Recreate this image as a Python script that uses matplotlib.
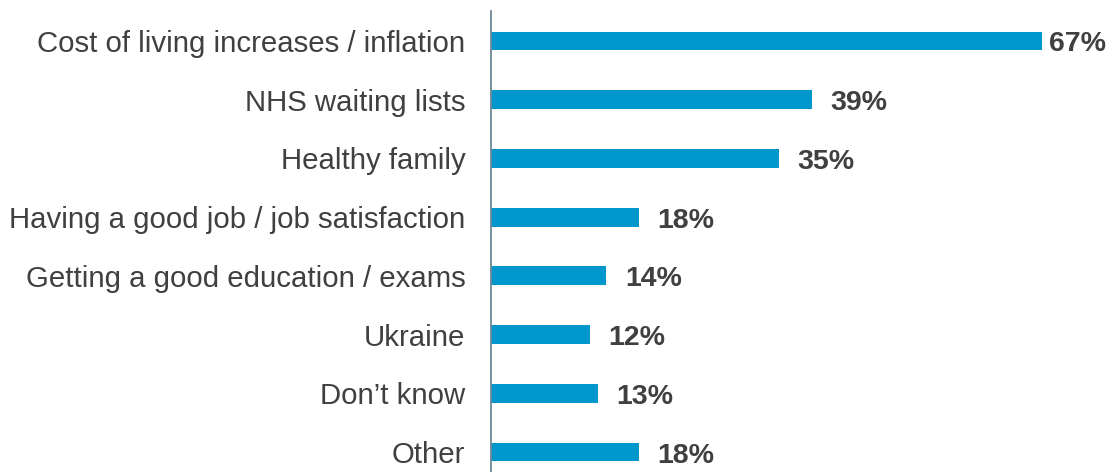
import matplotlib
matplotlib.use("Agg")
import matplotlib.pyplot as plt

categories = [
    "Cost of living increases / inflation",
    "NHS waiting lists",
    "Healthy family",
    "Having a good job / job satisfaction",
    "Getting a good education / exams",
    "Ukraine",
    "Don\u2019t know",
    "Other",
]
values = [67, 39, 35, 18, 14, 12, 13, 18]

plt.rcParams["font.family"] = ["Liberation Sans", "DejaVu Sans"]

fig = plt.figure(figsize=(11.06, 4.72), dpi=100)
ax = fig.add_axes([491 / 1106, 0, 615 / 1106, 461 / 472])

pos = list(range(len(categories)))
ax.barh(pos, values, height=0.32, color="#0098CC", zorder=2)

for i, v in enumerate(values):
    off = 5 if i == 0 else 13.5
    ax.annotate(f"{v}%", xy=(v, i), xytext=(off, -2.5), textcoords="offset points",
                ha="left", va="center", fontsize=20.5, fontweight="bold",
                color="#404040")

ax.set_xlim(0, 615 / 8.22)
ax.set_ylim(7 + 0.34, -0.51)
ax.set_yticks(pos)
ax.set_yticklabels(categories, fontsize=21.2, color="#404040")
ax.tick_params(axis="y", length=0, pad=18.5)
ax.set_xticks([])

for side in ("top", "right", "bottom"):
    ax.spines[side].set_visible(False)
ax.spines["left"].set_color("#6F8797")
ax.spines["left"].set_linewidth(1.3)

fig.savefig("out.png", dpi=100)
